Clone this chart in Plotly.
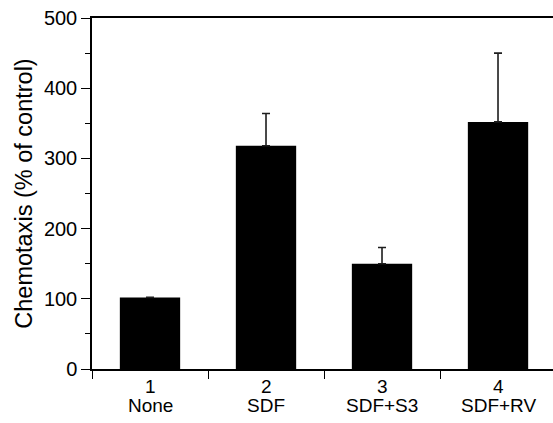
import plotly.graph_objects as go

numbers = ["1", "2", "3", "4"]
names = ["None", "SDF", "SDF+S3", "SDF+RV"]
values = [102, 318, 150, 352]
errors_plus = [0, 46, 23, 98]
y_ticks = [0, 100, 200, 300, 400, 500]

fig = go.Figure()
fig.add_trace(go.Bar(
    x=names, y=values,
    marker=dict(color="black", line=dict(width=0)),
    width=0.52,
    error_y=dict(type="data", array=errors_plus, symmetric=False,
                 arrayminus=[0]*len(values), color="#1e1e1e",
                 thickness=1.6, width=4),
))

font_family = "Liberation Sans, Arial, Helvetica, sans-serif"
for name, num in zip(names, numbers):
    fig.add_annotation(x=name, xref="x", y=0, yref="paper", text=num,
                       showarrow=False, yanchor="middle", yshift=-17,
                       font=dict(size=19, family=font_family, color="black"))
    fig.add_annotation(x=name, xref="x", y=0, yref="paper", text=name,
                       showarrow=False, yanchor="middle", yshift=-36,
                       font=dict(size=19, family=font_family, color="black"))

fig.update_layout(
    width=553, height=423,
    margin=dict(l=92, r=0, t=18, b=54),
    plot_bgcolor="white", paper_bgcolor="white",
    showlegend=False,
    font=dict(family=font_family, color="black"),
    xaxis=dict(
        type="category",
        range=[-0.5, 3.474],
        tickson="boundaries",
        ticks="outside", ticklen=8, tickwidth=1.2, tickcolor="black",
        showticklabels=False,
        showline=True, linecolor="black", linewidth=1.5,
        mirror=True, automargin=False,
        showgrid=False, zeroline=False,
    ),
    yaxis=dict(
        range=[0, 500],
        tickvals=y_ticks,
        ticks="outside", ticklen=9, tickwidth=1.2, tickcolor="black",
        minor=dict(dtick=50, ticks="outside", ticklen=5, tickwidth=1.2, tickcolor="black", showgrid=False),
        showline=True, linecolor="black", linewidth=1.5,
        showgrid=False, zeroline=False, automargin=False,
        tickfont=dict(size=20),
        title=dict(text="Chemotaxis (% of control)", font=dict(size=23.5), standoff=5),
    ),
)

fig.write_html(
    "out.html",
    config={"displayModeBar": False},
    post_script="document.body.style.margin='0';document.body.style.overflow='hidden';",
)
